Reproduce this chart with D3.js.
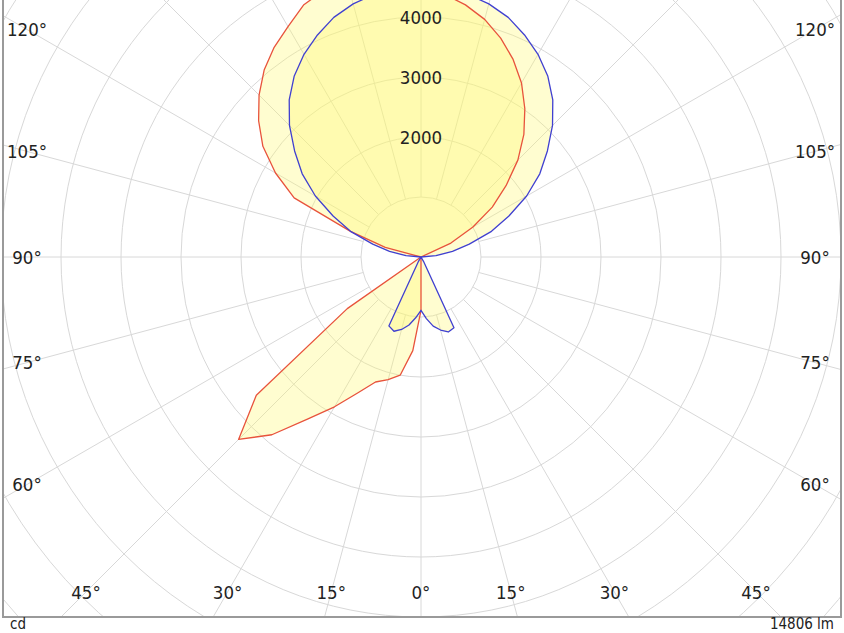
<!DOCTYPE html>
<html>
<head>
<meta charset="utf-8">
<script src="https://cdn.jsdelivr.net/npm/d3@7"></script>
<style>
  html, body { margin: 0; padding: 0; background: #fff; }
  svg { display: block; }
  text { font-family: "DejaVu Sans Condensed", "DejaVu Sans", sans-serif; font-stretch: condensed; fill: #222; }
</style>
</head>
<body>
<script>
// ---- data (cd) ----
const gammas = [0,5,10,15,20,25,30,35,40,45,50,55,60,65,70,75,80,85,90,95,100,105,110,115,120,125,130,135,140,145,150,155,160,165,170,175,180];
// red curve (C0 / C180 plane)
const redRight = [888,0,0,0,0,0,0,0,0,0,0,0,0,0,0,0,0,0,0,0,0,0,0,550,1000,1450,1850,2283,2667,3017,3350,3633,3883,4100,4267,4400,4500];
const redLeft  = [888,1567,2000,2117,2217,2500,2883,3300,3867,4300,3583,1500,0,0,0,0,0,0,0,0,0,617,1250,2333,2800,3217,3533,3817,4067,4267,4433,4633,4733,4750,4700,4600,4500];
// blue curve (C90 / C270 plane)
const blueRight = [888,1030,1170,1260,1330,1300,83,0,0,0,0,0,0,0,0,0,0,0,0,250,533,833,1250,1617,2033,2417,2750,3100,3417,3683,3900,4083,4250,4367,4450,4490,4500];
const blueLeft  = [888,1017,1150,1250,1317,1267,83,0,0,0,0,0,0,0,0,0,0,0,0,250,533,833,1250,1617,2033,2417,2750,3100,3417,3683,3900,4083,4250,4367,4450,4490,4500];
const ringValues = [1000,2000,3000,4000,5000,6000,7000,8000,9000,10000,11000];
const ringLabels = [2000,3000,4000];
const spokeAngles = d3.range(0, 360, 15);
const sideLabels = [60,75,90,105,120];
const bottomLabels = [-45,-30,-15,0,15,30,45];
const unitLabel = "cd";
const fluxLabel = "14806 lm";

// ---- layout ----
const W = 844, H = 633;
const cx = 421, cy = 257;
const frame = {x0: 3, x1: 841, y0: -10, y1: 617};
const r = d3.scaleLinear().domain([0, 1000]).range([0, 60]);
const deg = Math.PI / 180;
const fs = 18.5;

const svg = d3.select("body").append("svg").attr("width", W).attr("height", H);
svg.append("defs").append("clipPath").attr("id", "clip")
  .append("rect").attr("x", frame.x0).attr("y", frame.y0)
  .attr("width", frame.x1 - frame.x0).attr("height", frame.y1 - frame.y0);

const plot = svg.append("g").attr("clip-path", "url(#clip)");
const g = plot.append("g").attr("transform", `translate(${cx},${cy})`);

// grid rings
g.selectAll("circle.ring").data(ringValues).enter().append("circle")
  .attr("class", "ring").attr("r", d => r(d))
  .attr("fill", "none").attr("stroke", "#d8d8d8").attr("stroke-width", 1);
// spokes (angle measured from downward direction)
g.selectAll("line.spoke").data(spokeAngles).enter().append("line")
  .attr("x1", d => r(1000) * Math.sin(d * deg)).attr("y1", d => r(1000) * Math.cos(d * deg))
  .attr("x2", d => r(12000) * Math.sin(d * deg)).attr("y2", d => r(12000) * Math.cos(d * deg))
  .attr("stroke", "#d8d8d8").attr("stroke-width", 1);

// curves
function pts(right, left) {
  const a = gammas.map((gm, i) => ({a: Math.PI - gm * deg, v: right[i]}));
  const b = gammas.slice().reverse().map((gm, j) => ({a: Math.PI + gm * deg, v: left[gammas.length - 1 - j]}));
  return a.concat(b);
}
const radial = d3.lineRadial().angle(d => d.a).radius(d => r(d.v)).curve(d3.curveLinearClosed);
const series = [
  {p: pts(redRight, redLeft), color: "#e8533c"},
  {p: pts(blueRight, blueLeft), color: "#4040d0"}
];
g.selectAll("path.fill").data(series).enter().append("path")
  .attr("d", d => radial(d.p)).attr("fill", "rgb(255,250,110)").attr("fill-opacity", 0.32)
  .attr("stroke", "none");
g.selectAll("path.line").data(series).enter().append("path")
  .attr("d", d => radial(d.p)).attr("fill", "none")
  .attr("stroke", d => d.color).attr("stroke-width", 1.3).attr("stroke-linejoin", "round");

// ring labels
g.selectAll("text.rl").data(ringLabels).enter().append("text")
  .attr("x", 0).attr("y", d => -r(d)).attr("dy", "0.36em")
  .attr("text-anchor", "middle").attr("font-size", fs).text(d => d);

// angle labels
const sideDx = 394, botDy = 335;
const lab = svg.append("g");
sideLabels.forEach(a => {
  const y = cy + sideDx / Math.tan(a * deg);
  [-1, 1].forEach(s => {
    lab.append("text").attr("x", cx + s * sideDx).attr("y", y).attr("dy", "0.36em")
      .attr("text-anchor", "middle").attr("font-size", fs).text(a + "°");
  });
});
bottomLabels.forEach(a => {
  lab.append("text").attr("x", cx + botDy * Math.tan(a * deg)).attr("y", cy + botDy).attr("dy", "0.36em")
    .attr("text-anchor", "middle").attr("font-size", fs).text(Math.abs(a) + "°");
});

// frame
svg.append("path")
  .attr("d", `M${frame.x0},${frame.y0}V${frame.y1}H${frame.x1}V${frame.y0}`)
  .attr("fill", "none").attr("stroke", "#9a9a9a").attr("stroke-width", 2);

svg.append("text").attr("x", 10).attr("y", 629).attr("font-size", 15).text(unitLabel);
svg.append("text").attr("x", 834).attr("y", 629).attr("text-anchor", "end").attr("font-size", 15).text(fluxLabel);
</script>
</body>
</html>
